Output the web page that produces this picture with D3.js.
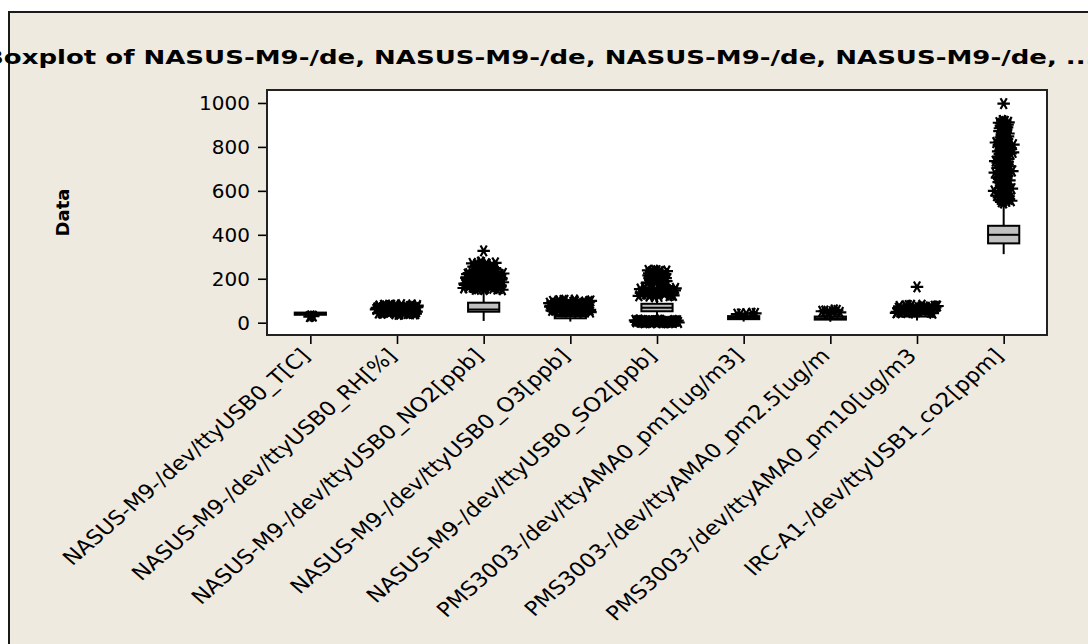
<!DOCTYPE html>
<html>
<head>
<meta charset="utf-8">
<script src="https://cdn.jsdelivr.net/npm/d3@7"></script>
<style>
  html, body { margin: 0; padding: 0; background: #ffffff; overflow: hidden; }
  svg { display: block; }
  text { font-family: "DejaVu Sans", Verdana, sans-serif; fill: #000; }
</style>
</head>
<body>
<svg id="chart" width="1088" height="644"></svg>
<script>
// ---------------- DATA ----------------
const categories = [
  "NASUS-M9-/dev/ttyUSB0_T[C]",
  "NASUS-M9-/dev/ttyUSB0_RH[%]",
  "NASUS-M9-/dev/ttyUSB0_NO2[ppb]",
  "NASUS-M9-/dev/ttyUSB0_O3[ppb]",
  "NASUS-M9-/dev/ttyUSB0_SO2[ppb]",
  "PMS3003-/dev/ttyAMA0_pm1[ug/m3]",
  "PMS3003-/dev/ttyAMA0_pm2.5[ug/m",
  "PMS3003-/dev/ttyAMA0_pm10[ug/m3",
  "IRC-A1-/dev/ttyUSB1_co2[ppm]"
];
const q1Values      = [36, 52, 50, 20, 52, 16, 14, 28, 361];
const medianValues  = [41, 60, 60, 30, 68, 22, 20, 38, 400];
const q3Values      = [46, 68, 91, 38, 86, 30, 28, 48, 441];
const whiskerLow    = [33, 30,  8,  5, 20,  5,  4, 10, 312];
const whiskerHigh   = [48, 80, 140, 46, 110, 36, 40, 44, 545];
const yTickValues   = [0, 200, 400, 600, 800, 1000];

const titleText = "Boxplot of NASUS-M9-/de, NASUS-M9-/de, NASUS-M9-/de, NASUS-M9-/de, ...";
const yAxisTitle = "Data";

// outliers
const outT = [28, 30, 31];
const outRH = [80, 78, 82, 76, 74, 79, 72, 70, 77, 68, 66, 71, 64, 62, 67, 60, 58, 63, 56, 54, 59,
  52, 50, 55, 48, 46, 51, 44, 42, 47, 40, 38, 43, 45, 53, 61, 69, 75, 81, 73, 65, 57, 49, 41, 39,
  79, 74, 70, 66, 62, 58, 54, 50, 46, 42, 78, 71, 63, 55, 47, 40, 76, 68, 60, 52, 44];
const outNO2Top = [327];
const outNO2Upper = [276, 272, 268, 265, 262, 258, 255, 251, 248, 244, 240, 236, 232,
  274, 270, 266, 260, 253, 246, 238, 234, 263, 249];
const outNO2Lower = [228, 224, 220, 217, 213, 210, 206, 203, 199, 196, 192, 189, 185, 182, 178, 175,
  171, 168, 164, 161, 157, 154, 150, 226, 214, 201, 188, 176, 163, 152, 219, 207, 194, 181, 170, 158, 209, 186, 167,
  227, 221, 215, 208, 202, 195, 190, 183, 177, 172, 166, 160, 155, 151, 223, 211, 198, 184, 173, 162, 153,
  218, 204, 191, 179, 169, 156];
const outO3 = [102, 99, 96, 100, 94, 91, 97, 88, 85, 92, 82, 79, 86, 76, 73, 80, 70, 67, 74, 64, 61,
  68, 58, 55, 62, 52, 49, 56, 47, 53, 59, 65, 71, 77, 83, 89, 95, 98, 87, 75, 63, 51,
  101, 97, 93, 90, 84, 81, 78, 72, 69, 66, 60, 57, 54, 50, 48, 103, 95, 86, 78, 69, 60, 52];
const outSO2Upper = [239, 235, 231, 227, 223, 219, 215, 211, 207, 203, 199, 195, 191, 187, 183, 179,
  175, 171, 237, 225, 213, 201, 189, 177, 229, 205, 185, 238, 233, 226, 221, 217, 209, 197, 193, 181, 173, 233, 217];
const outSO2Mid = [160, 156, 152, 148, 144, 140, 136, 132, 128, 124, 120, 158, 146, 134, 122, 150, 138, 126, 142, 130,
  159, 154, 147, 139, 131, 123, 118, 153, 137, 121];
const outSO2Low = [0, 1, 3, 2, 5, 4, 7, 6, 9, 8, 11, 10, 0, 2, 4, 6, 8, 10, 1, 3, 5, 7, 9, 11, 0, 3, 6, 9,
  1, 4, 7, 10, 2, 5, 8, 11, 0, 6, 3, 9, 12, 1, 5];
const outPM1 = [40, 42, 41, 39, 43];
const outPM25 = [44, 47, 50, 53, 56, 46, 52, 58];
const outPM10 = [79, 76, 73, 77, 70, 67, 74, 64, 61, 68, 58, 55, 62, 52, 49, 56, 46, 43, 50, 59, 65,
  71, 75, 60, 54, 47, 44, 66, 72, 78, 75, 69, 63, 57, 51, 45, 80, 72, 62, 53, 48];
const outPM10Top = [163];
const outCO2Top = [997];
const outCO2Core = [920, 912, 905, 897, 889, 880, 872, 865, 857, 848, 840, 833, 825, 816, 808, 800,
  793, 785, 776, 768, 760, 752, 745, 737, 728, 720, 712, 705, 697, 688, 680, 672, 665, 657, 648, 640,
  632, 625, 617, 608, 600, 592, 585, 577, 568, 560, 552, 918, 910,
  916, 908, 901, 893, 885, 876, 868, 861, 853, 844, 836, 829, 821, 812, 804, 797, 789, 781, 772, 764,
  756, 748, 741, 733, 724, 716, 708, 701, 693, 684, 676, 668, 661, 653, 644, 636, 628, 621, 613, 604,
  596, 588, 581, 573, 564, 556];
const outCO2Wide = [825, 810, 795, 780, 770, 750, 735, 720, 705, 690, 675, 660, 648, 615, 600, 585, 570, 555, 545,
  820, 805, 788, 775, 742, 728, 712, 698, 683, 668, 655, 610, 595, 578, 562, 550];

// ---------------- STYLE / LAYOUT ----------------
const W = 1088, H = 644;
const plot = { left: 267, top: 90, right: 1047, bottom: 335 };
const bgColor = "#EEEAE0";
const boxFill = "#C0C0C0";
const hStretch = 1.14;   // the reference's texts look horizontally widened

// outlier groups: which category, which values, and how wide the symbols are spread (px)
const outlierGroups = [
  { cat: 0, values: outT, spread: 3 },
  { cat: 1, values: outRH, spread: 21 },
  { cat: 2, values: outNO2Lower, spread: 20 },
  { cat: 2, values: outNO2Upper, spread: 12 },
  { cat: 2, values: outNO2Top, spread: 0 },
  { cat: 3, values: outO3, spread: 21 },
  { cat: 4, values: outSO2Low, spread: 22 },
  { cat: 4, values: outSO2Mid, spread: 19 },
  { cat: 4, values: outSO2Upper, spread: 10 },
  { cat: 5, values: outPM1, spread: 12 },
  { cat: 6, values: outPM25, spread: 10 },
  { cat: 7, values: outPM10, spread: 21 },
  { cat: 7, values: outPM10Top, spread: 0 },
  { cat: 8, values: outCO2Core, spread: 5 },
  { cat: 8, values: outCO2Wide, spread: 10 },
  { cat: 8, values: outCO2Top, spread: 0 }
];

const svg = d3.select("#chart");

// outer graph window (extends beyond the picture)
svg.append("rect")
  .attr("x", 9).attr("y", 12)
  .attr("width", W + 20).attr("height", H + 20)
  .attr("fill", bgColor)
  .attr("stroke", "#1a1a1a").attr("stroke-width", 2);

// title (clipped at both ends as in the picture)
svg.append("text")
  .attr("transform", "translate(-16,64) scale(1.30,1)")
  .attr("text-anchor", "start")
  .style("font-weight", "bold")
  .style("font-size", "20px")
  .text(titleText);

// scales
const x = d3.scalePoint().domain(categories).range([plot.left, plot.right]).padding(0.5);
const bandW = (plot.right - plot.left) / categories.length;
const y = d3.scaleLinear().domain([-56, 1059]).range([plot.bottom, plot.top]);

// plot area
svg.append("rect")
  .attr("x", plot.left).attr("y", plot.top)
  .attr("width", plot.right - plot.left).attr("height", plot.bottom - plot.top)
  .attr("fill", "#ffffff");

// y axis
const yAxis = svg.append("g")
  .attr("transform", `translate(${plot.left},0)`)
  .call(d3.axisLeft(y).tickValues(yTickValues).tickFormat(d3.format("d"))
        .tickSize(9).tickPadding(8).tickSizeOuter(0));
yAxis.select(".domain").remove();
yAxis.selectAll(".tick line").attr("stroke", "#000").attr("stroke-width", 1.6);
yAxis.selectAll(".tick text")
  .style("font-family", "'DejaVu Sans', Verdana, sans-serif")
  .style("font-size", "20px").attr("fill", "#000");

// x axis
const xAxis = svg.append("g")
  .attr("transform", `translate(0,${plot.bottom})`)
  .call(d3.axisBottom(x).tickSize(9).tickPadding(0).tickSizeOuter(0));
xAxis.select(".domain").remove();
xAxis.selectAll(".tick line").attr("stroke", "#000").attr("stroke-width", 1.6);
xAxis.selectAll(".tick text")
  .style("font-family", "'DejaVu Sans', Verdana, sans-serif")
  .style("font-size", "20px").attr("fill", "#000")
  .attr("text-anchor", "end")
  .attr("x", 0).attr("y", 0)
  .attr("dy", "0.7em")
  .attr("transform", `translate(-11,12) scale(${hStretch},1) rotate(-45)`);

// y axis title
svg.append("text")
  .attr("transform", `translate(69,${(plot.top + plot.bottom) / 2}) rotate(-90)`)
  .attr("text-anchor", "middle")
  .style("font-weight", "bold")
  .style("font-size", "18px")
  .text(yAxisTitle);

// boxes
const boxW = bandW * 0.36;
const boxes = svg.append("g");
categories.forEach((c, i) => {
  const cx = x(c);
  const g = boxes.append("g");
  g.append("line").attr("x1", cx).attr("x2", cx)
    .attr("y1", y(whiskerLow[i])).attr("y2", y(q1Values[i]))
    .attr("stroke", "#000").attr("stroke-width", 2);
  g.append("line").attr("x1", cx).attr("x2", cx)
    .attr("y1", y(q3Values[i])).attr("y2", y(whiskerHigh[i]))
    .attr("stroke", "#000").attr("stroke-width", 2);
  g.append("rect")
    .attr("x", cx - boxW / 2).attr("y", y(q3Values[i]))
    .attr("width", boxW).attr("height", Math.max(1, y(q1Values[i]) - y(q3Values[i])))
    .attr("fill", boxFill).attr("stroke", "#000").attr("stroke-width", 2);
  g.append("line")
    .attr("x1", cx - boxW / 2).attr("x2", cx + boxW / 2)
    .attr("y1", y(medianValues[i])).attr("y2", y(medianValues[i]))
    .attr("stroke", "#000").attr("stroke-width", 2);
});

// outliers as asterisks
const star = d3.symbol().type(d3.symbolAsterisk).size(110)();
const outG = svg.append("g");
outlierGroups.forEach(grp => {
  const cx = x(categories[grp.cat]);
  grp.values.forEach((v, k) => {
    const frac = ((k * 0.6180339887 + 0.37) % 1) * 2 - 1;
    outG.append("path")
      .attr("d", star)
      .attr("transform", `translate(${cx + frac * grp.spread},${y(v)}) rotate(90)`)
      .attr("fill", "none")
      .attr("stroke", "#000")
      .attr("stroke-width", 2.2);
  });
});

// plot frame on top
svg.append("rect")
  .attr("x", plot.left).attr("y", plot.top)
  .attr("width", plot.right - plot.left).attr("height", plot.bottom - plot.top)
  .attr("fill", "none").attr("stroke", "#222").attr("stroke-width", 2);
</script>
</body>
</html>
